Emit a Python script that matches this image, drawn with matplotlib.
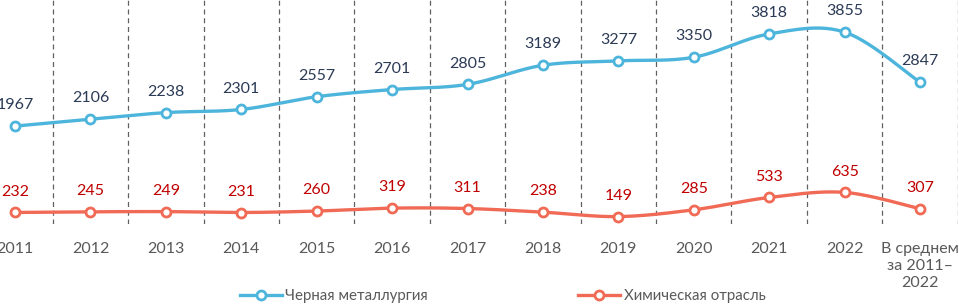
import matplotlib
matplotlib.use("Agg")
import matplotlib.pyplot as plt
from matplotlib.lines import Line2D
import numpy as np

plt.rcParams['font.family'] = ['Lato', 'DejaVu Sans']

categories = ["2011", "2012", "2013", "2014", "2015", "2016", "2017", "2018",
              "2019", "2020", "2021", "2022", "В среднем\nза 2011–\n2022"]
metallurgy = [1967, 2106, 2238, 2301, 2557, 2701, 2805, 3189, 3277, 3350, 3818, 3855, 2847]
chemistry = [232, 245, 249, 231, 260, 319, 311, 238, 149, 285, 533, 635, 307]

series_names = ["Черная металлургия", "Химическая отрасль"]
line_colors = ["#4DB5DB", "#F06A55"]
label_colors = ["#2B3A55", "#C00000"]
text_gray = "#595959"


def smooth(x, y, steps=30):
    """Catmull-Rom curve through the points (like Excel smoothed lines)"""
    x = np.asarray(x, float)
    y = np.asarray(y, float)
    px = np.concatenate([[x[0]], x, [x[-1]]])
    py = np.concatenate([[y[0]], y, [y[-1]]])
    xs, ys = [], []
    t = np.linspace(0, 1, steps)
    for i in range(1, len(px) - 2):
        for p, out in ((px, xs), (py, ys)):
            p0, p1, p2, p3 = p[i - 1], p[i], p[i + 1], p[i + 2]
            out.extend(0.5 * ((2 * p1) + (-p0 + p2) * t
                              + (2 * p0 - 5 * p1 + 4 * p2 - p3) * t ** 2
                              + (-p0 + 3 * p1 - 3 * p2 + p3) * t ** 3))
    return np.array(xs), np.array(ys)


fig = plt.figure(figsize=(9.59, 3.04), dpi=100)
ax = fig.add_axes([-22.7 / 959, 80 / 304, 980.4 / 959, 224 / 304])

x = np.arange(len(categories))
ax.set_xlim(-0.5, len(categories) - 0.5)
ax.set_ylim(0, 4500)

for b in np.arange(0.5, len(categories), 1.0):
    ax.axvline(b, color="#606060", lw=0.9, ls=(0, (4, 3)), zorder=1)

for vals, lc, tc in zip([metallurgy, chemistry], line_colors, label_colors):
    sx, sy = smooth(x, vals)
    ax.plot(sx, sy, color=lc, lw=2.4, zorder=3, solid_capstyle="round")
    ax.plot(x, vals, ls="none", marker="o", ms=6.5, mfc="white", mec=lc, mew=2, zorder=4)
    for xi, v in zip(x, vals):
        ax.annotate(str(v), (xi, v), xytext=(0, 15), textcoords="offset points",
                    ha="center", va="center", fontsize=11.5, color=tc)

ax.set_xticks(x)
ax.set_xticklabels(categories, fontsize=11.5, color=text_gray, linespacing=1.25, va="top")
ax.tick_params(axis="x", length=0, pad=13)
ax.set_yticks([])
for s in ax.spines.values():
    s.set_visible(False)

handles = [Line2D([], [], color=c, lw=2.4, marker="o", ms=6.5, mfc="white", mec=c, mew=2)
           for c in line_colors]
fig.legend(handles, series_names, loc="center", bbox_to_anchor=(0.524, 8 / 304), ncol=2,
           frameon=False, fontsize=10.8, labelcolor=text_gray, handlelength=2.8,
           handletextpad=0.25, columnspacing=10, borderaxespad=0, borderpad=0)

fig.savefig("out.png", dpi=100)
